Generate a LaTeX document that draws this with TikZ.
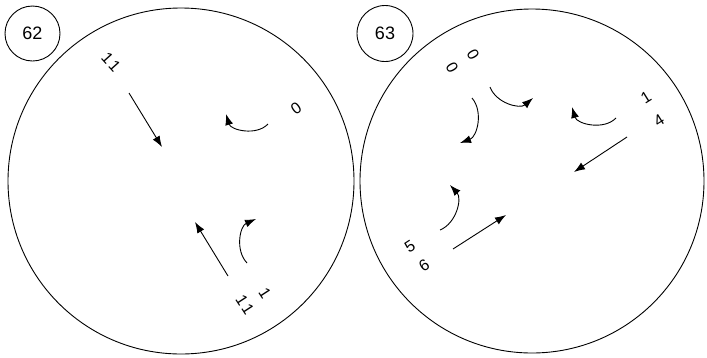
\documentclass[tikz,border=0pt]{standalone}
\usepackage{fontspec}
\setmainfont{Liberation Sans}
\usetikzlibrary{arrows.meta}

\begin{document}
\begin{tikzpicture}[x=1pt,y=-1pt,line width=0.9pt,
  arr/.style={-{Latex[length=11pt,width=8pt]}},
  lab/.style={inner sep=0pt,font=\fontsize{16}{16}\selectfont},
  num/.style={draw,circle,inner sep=0pt,font=\fontsize{18}{18}\selectfont}]
\useasboundingbox (0,0) rectangle (707,357);
% ---- the two rounds and their numbers ----
\node[draw,circle,inner sep=0pt,minimum size=346pt] (roundL) at (181,181) {};
\node[draw,circle,inner sep=0pt,minimum size=344pt] (roundR) at (532,181) {};
\node[num,minimum size=55pt] (numL) at (32.5,33.5) {62};
\node[num,minimum size=56pt] (numR) at (385,33.5) {63};
% ---- labels in round 62 ----
\node[lab,rotate=-48] (tL) at (111,62) {1\kern2pt 1};
\node[lab,rotate=35] (zL) at (296,108) {0};
\node[lab,rotate=-57] (oneL) at (265,293) {1};
\node[lab,rotate=-57] (elevL) at (245,305) {1\kern2pt 1};
% ---- labels in round 63 ----
\node[lab,rotate=-60] (zRa) at (473,55) {0};
\node[lab,rotate=-60] (zRb) at (452,68) {0};
\node[lab,rotate=32] (oneR) at (646,97) {1};
\node[lab,rotate=32] (fourR) at (659,120) {4};
\node[lab,rotate=33] (fiveR) at (410,247) {5};
\node[lab,rotate=33] (sixR) at (424,265) {6};
% ---- arrow ends ----
\foreach \n/\x/\y in {
  p1/129/93, q1/162/147, p2/268/124, q2/226/114,
  p3/228/276, q3/195/222, p4/247/263, q4/256/219,
  p5/490/87, q5/533/98, p6/472/98, q6/460/143,
  p7/616/118, q7/572/107, p8/627/137, q8/574/172,
  p9/440/230, q9/450/185, p10/453/249, q10/506/215%
}{
  \coordinate (\n) at (\x,\y);
}
% ---- arrows in round 62 ----
\draw[arr] (p1) -- (q1);
\draw[arr] (p2) to[bend left=60] (q2);
\draw[arr] (p3) -- (q3);
\draw[arr] (p4) to[bend left=55] (q4);
% ---- arrows in round 63 ----
\draw[arr] (p5) to[bend right=55] (q5);
\draw[arr] (p6) to[bend left=55] (q6);
\draw[arr] (p7) to[bend left=60] (q7);
\draw[arr] (p8) -- (q8);
\draw[arr] (p9) to[bend right=55] (q9);
\draw[arr] (p10) -- (q10);
\end{tikzpicture}
\end{document}
